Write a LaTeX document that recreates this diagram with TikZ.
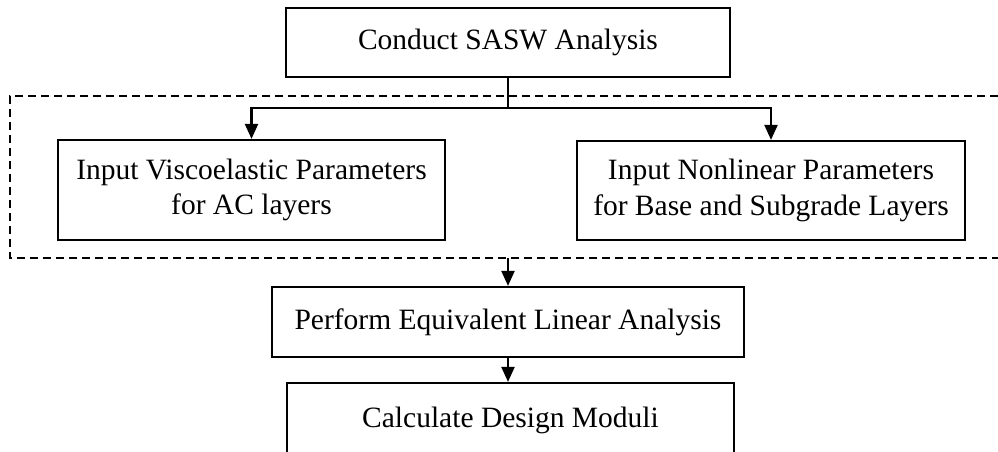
\documentclass[tikz,border=0pt]{standalone}
\usepackage{fontspec}
\setmainfont{Liberation Serif}
\usetikzlibrary{arrows.meta}
\begin{document}
\begin{tikzpicture}[x=1pt,y=-1pt,
  box/.style={draw,line width=2.2pt,inner sep=0pt,align=center,font=\fontsize{29.5}{35.5}\selectfont},
  arr/.style={line width=2.2pt,-{Triangle[width=13pt,length=15pt]}},
  link/.style={line width=2.2pt},
  dashbox/.style={line width=2pt,dash pattern=on 8pt off 5pt}]
\useasboundingbox (0,0) rectangle (998,451);
\clip (0,0) rectangle (998,451);
\node[box,minimum width=444pt,minimum height=69pt] (conduct) at (508,42.5) {Conduct SASW Analysis};
\node[box,minimum width=387pt,minimum height=100pt] (visco) at (251.5,190) {Input Viscoelastic Parameters\\for AC layers};
\node[box,minimum width=388pt,minimum height=99pt] (nonlin) at (771,190.5) {Input Nonlinear Parameters\\for Base and Subgrade Layers};
\node[box,minimum width=472pt,minimum height=70pt] (perform) at (508,322) {Perform Equivalent Linear Analysis};
\node[box,minimum width=447pt,minimum height=74pt] (calc) at (510.5,420) {Calculate Design Moduli};
\coordinate (split) at (508,108);
\coordinate (dashout) at (508,258);
\draw[dashbox] (998,96) -- (10,96) -- (10,258) -- (998,258);
\draw[link] (conduct.south) -- (split);
\draw[arr] (split) -| (visco.north);
\draw[arr] (split) -| (nonlin.north);
\draw[arr] (dashout) -- (perform.north);
\draw[arr] (perform.south) -- (perform.south |- calc.north);
\end{tikzpicture}
\end{document}
